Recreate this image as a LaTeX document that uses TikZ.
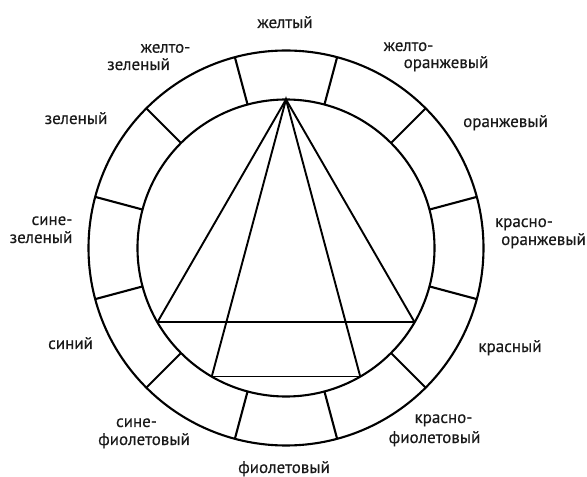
\documentclass[tikz,border=0pt]{standalone}
\usepackage{fontspec}
\setmainfont{PT Sans}
\newfontfamily\lblfont{PT Sans}[FakeBold=0.4]
\begin{document}
\begin{tikzpicture}[x=1pt,y=1pt,
  ring/.style={line width=2.1pt},
  chord/.style={line width=1.9pt},
  base/.style={line width=1.5pt},
  lbl/.style={inner sep=0pt, anchor=base, font=\lblfont\fontsize{17}{20}\selectfont, text=black!90}]
\useasboundingbox (0,0) rectangle (587,477);
\coordinate (O) at (286,229);
\draw[ring] (O) circle[radius=197.5pt];
\draw[ring] (O) circle[radius=148.5pt];
\foreach \a in {15,45,...,345}
  \draw[ring] ([shift={(\a:148.5pt)}]O) -- ([shift={(\a:197.5pt)}]O);
\coordinate (A) at ([shift={(90:148.5pt)}]O);
\coordinate (B) at ([shift={(210:148.5pt)}]O);
\coordinate (C) at ([shift={(330:148.5pt)}]O);
\coordinate (D) at ([shift={(240:148.5pt)}]O);
\coordinate (E) at ([shift={(300:148.5pt)}]O);
\draw[chord] (B) -- (A) -- (C);
\draw[chord] (D) -- (A) -- (E);
\draw[base] (B) -- (C);
\draw[base] (D) -- (E);
% labels (x, 477 - baseline)
\node[lbl] (y)   at (285,449) {желтый};
\node[lbl] (yg1) at (165.5,424.3) {желто-};
\node[lbl] (yg2) at (138.5,407) {зеленый};
\node[lbl] (yo1) at (408.5,426) {желто-};
\node[lbl] (yo2) at (446,409) {оранжевый};
\node[lbl] (g)   at (76,353) {зеленый};
\node[lbl] (o)   at (505.5,350) {оранжевый};
\node[lbl] (bg1) at (52,252) {сине-};
\node[lbl] (bg2) at (41,234) {зеленый};
\node[lbl] (ro1) at (524,250) {красно-};
\node[lbl] (ro2) at (543.5,232) {оранжевый};
\node[lbl] (b)   at (70.5,128) {синий};
\node[lbl] (r)   at (510,125) {красный};
\node[lbl] (bv1) at (136.5,50) {сине-};
\node[lbl] (bv2) at (144,32) {фиолетовый};
\node[lbl] (rv1) at (443.5,54) {красно-};
\node[lbl] (rv2) at (434.5,34) {фиолетовый};
\node[lbl] (v)   at (284,4) {фиолетовый};
\end{tikzpicture}
\end{document}
